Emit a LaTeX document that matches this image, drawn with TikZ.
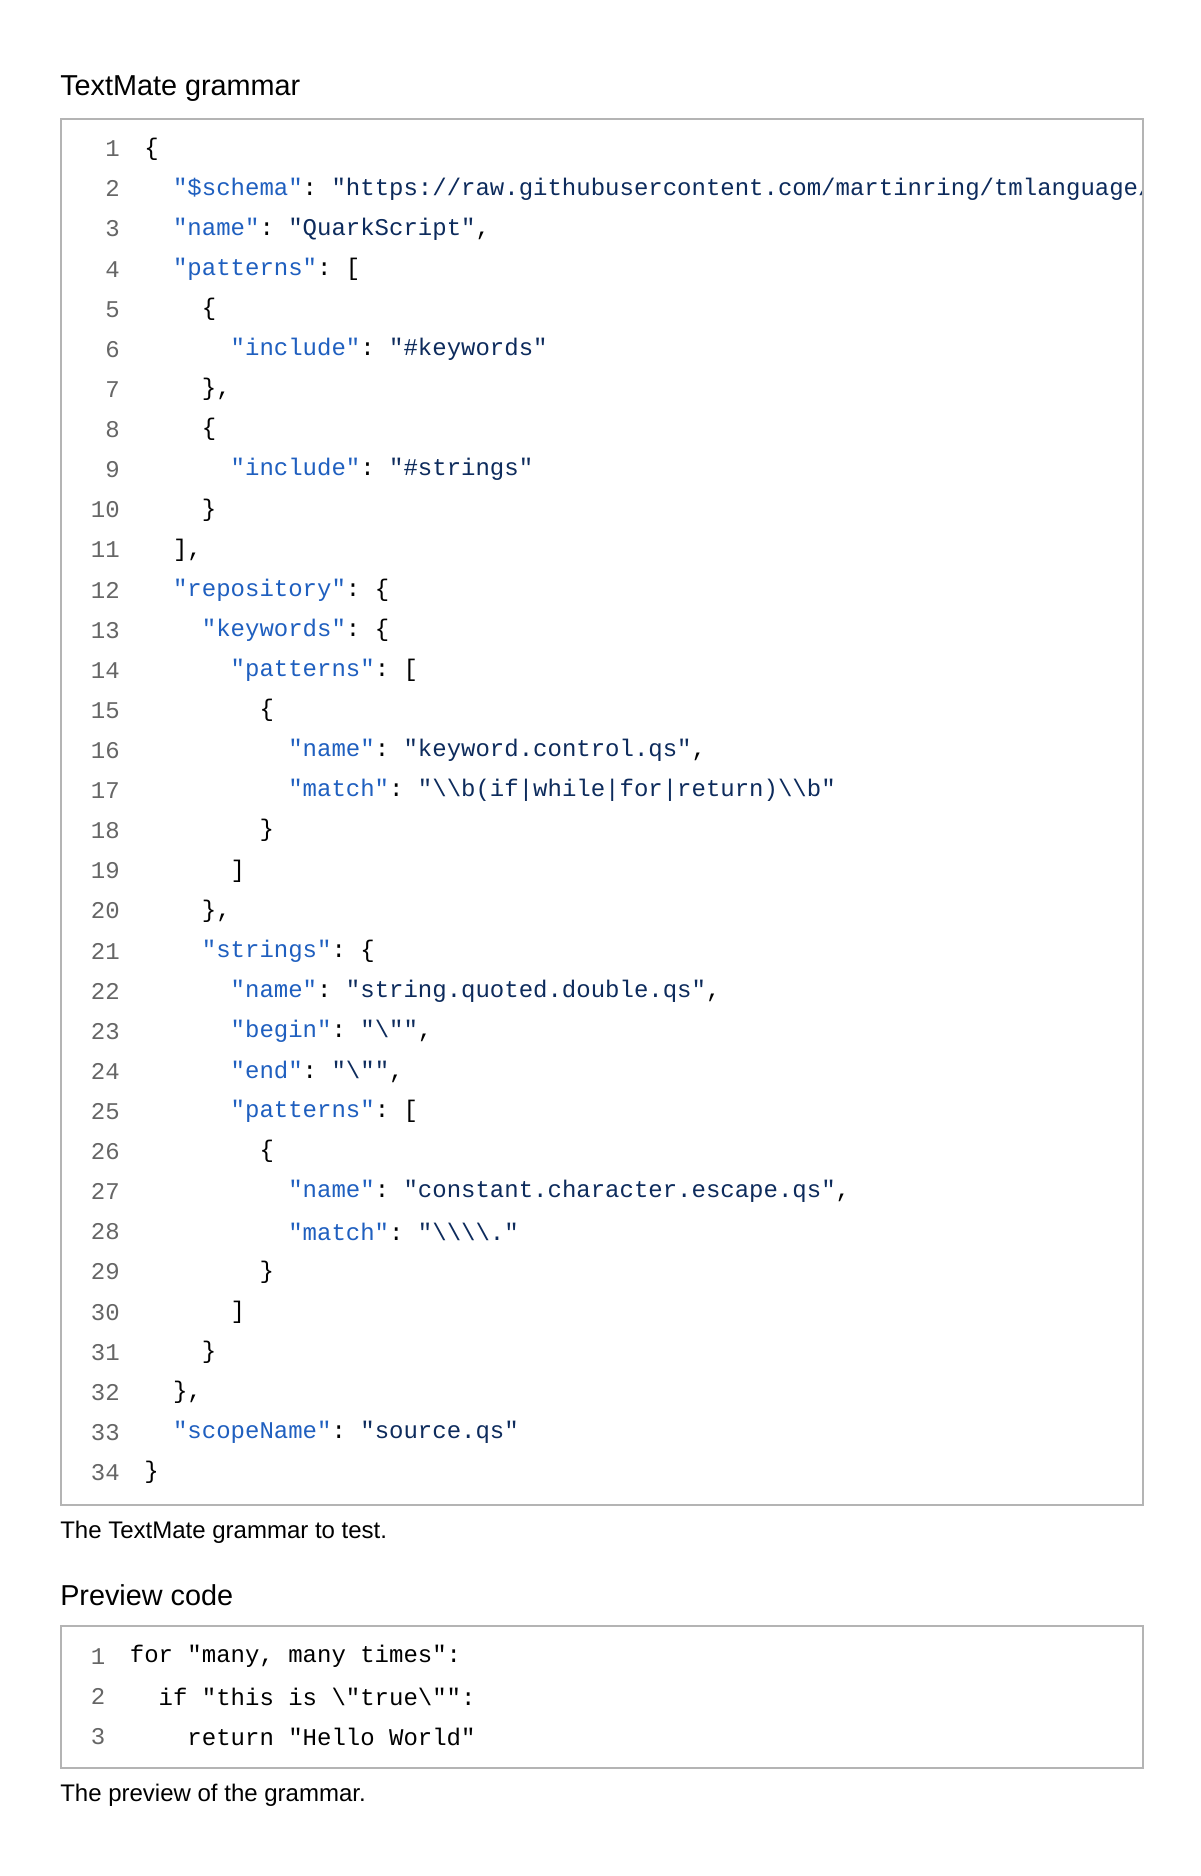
\documentclass[tikz,border=0pt]{standalone}
\usepackage{fontspec}
\setmainfont{Liberation Sans}
\setmonofont{Liberation Mono}
\definecolor{keyblue}{HTML}{1F5FBF}
\definecolor{valnavy}{HTML}{0D2B5C}
\definecolor{numgray}{HTML}{666666}
\definecolor{framegray}{HTML}{B4B4B4}
\newcommand{\K}[1]{\textcolor{keyblue}{#1}}
\newcommand{\V}[1]{\textcolor{valnavy}{#1}}
\newcommand{\bs}{\textbackslash}
\begin{document}
\begin{tikzpicture}[x=1pt, y=-1pt,
    code/.style={anchor=west, inner sep=0pt, font=\ttfamily\fontsize{20}{20}\selectfont},
    num/.style={anchor=east, inner sep=0pt, text=numgray, font=\ttfamily\fontsize{20}{20}\selectfont},
    head/.style={anchor=west, inner sep=0pt, font=\fontsize{24}{24}\selectfont},
    caption/.style={anchor=west, inner sep=0pt, font=\fontsize{20}{20}\selectfont},
    frame/.style={draw=framegray, line width=1.5pt}]
        \useasboundingbox (0, 0) rectangle (1000, 1563);
        % first listing
        \node[head] (t1) at (50, 74) {TextMate grammar};
        \draw[frame] (51, 99) rectangle (952, 1254);
        \foreach \n in {1,...,34}
            \node[num] (n\n) at (100, {124 + (\n-1)*33.42}) {\n};
        \begin{scope}
            \clip (52, 100) rectangle (951, 1253);
            \node[code] (l1) at (120, 124) {\{};
            \node[code] (l2) at (120, 157.4) {\ \ \K{"\$schema"}: \V{"https://raw.githubusercontent.com/martinring/tmlanguage/master/tmlanguage.json"},};
            \node[code] (l3) at (120, 190.8) {\ \ \K{"name"}: \V{"QuarkScript"},};
            \node[code] (l4) at (120, 224.3) {\ \ \K{"patterns"}: [};
            \node[code] (l5) at (120, 257.7) {\ \ \ \ \{};
            \node[code] (l6) at (120, 291.1) {\ \ \ \ \ \ \K{"include"}: \V{"\#keywords"}};
            \node[code] (l7) at (120, 324.5) {\ \ \ \ \},};
            \node[code] (l8) at (120, 357.9) {\ \ \ \ \{};
            \node[code] (l9) at (120, 391.4) {\ \ \ \ \ \ \K{"include"}: \V{"\#strings"}};
            \node[code] (l10) at (120, 424.8) {\ \ \ \ \}};
            \node[code] (l11) at (120, 458.2) {\ \ ],};
            \node[code] (l12) at (120, 491.6) {\ \ \K{"repository"}: \{};
            \node[code] (l13) at (120, 525.0) {\ \ \ \ \K{"keywords"}: \{};
            \node[code] (l14) at (120, 558.5) {\ \ \ \ \ \ \K{"patterns"}: [};
            \node[code] (l15) at (120, 591.9) {\ \ \ \ \ \ \ \ \{};
            \node[code] (l16) at (120, 625.3) {\ \ \ \ \ \ \ \ \ \ \K{"name"}: \V{"keyword.control.qs"},};
            \node[code] (l17) at (120, 658.7) {\ \ \ \ \ \ \ \ \ \ \K{"match"}: \V{"\bs\bs b(if|while|for|return)\bs\bs b"}};
            \node[code] (l18) at (120, 692.1) {\ \ \ \ \ \ \ \ \}};
            \node[code] (l19) at (120, 725.6) {\ \ \ \ \ \ ]};
            \node[code] (l20) at (120, 759.0) {\ \ \ \ \},};
            \node[code] (l21) at (120, 792.4) {\ \ \ \ \K{"strings"}: \{};
            \node[code] (l22) at (120, 825.8) {\ \ \ \ \ \ \K{"name"}: \V{"string.quoted.double.qs"},};
            \node[code] (l23) at (120, 859.2) {\ \ \ \ \ \ \K{"begin"}: \V{"\bs""},};
            \node[code] (l24) at (120, 892.7) {\ \ \ \ \ \ \K{"end"}: \V{"\bs""},};
            \node[code] (l25) at (120, 926.1) {\ \ \ \ \ \ \K{"patterns"}: [};
            \node[code] (l26) at (120, 959.5) {\ \ \ \ \ \ \ \ \{};
            \node[code] (l27) at (120, 992.9) {\ \ \ \ \ \ \ \ \ \ \K{"name"}: \V{"constant.character.escape.qs"},};
            \node[code] (l28) at (120, 1026.3) {\ \ \ \ \ \ \ \ \ \ \K{"match"}: \V{"\bs\bs\bs\bs."}};
            \node[code] (l29) at (120, 1059.8) {\ \ \ \ \ \ \ \ \}};
            \node[code] (l30) at (120, 1093.2) {\ \ \ \ \ \ ]};
            \node[code] (l31) at (120, 1126.6) {\ \ \ \ \}};
            \node[code] (l32) at (120, 1160.0) {\ \ \},};
            \node[code] (l33) at (120, 1193.4) {\ \ \K{"scopeName"}: \V{"source.qs"}};
            \node[code] (l34) at (120, 1226.9) {\}};
        \end{scope}
        \node[caption] (c1) at (50, 1277) {The TextMate grammar to test.};
        % second listing
        \node[head] (t2) at (50, 1329) {Preview code};
        \draw[frame] (51, 1355) rectangle (952, 1473);
        \foreach \n in {1,2,3}
            \node[num] (m\n) at (88, {1380 + (\n-1)*33.4}) {\n};
        \node[code] (p1) at (108, 1380) {for "many, many times":};
        \node[code] (p2) at (108, 1413.4) {\ \ if "this is \bs"true\bs"":};
        \node[code] (p3) at (108, 1446.8) {\ \ \ \ return "Hello World"};
        \node[caption] (c2) at (50, 1496) {The preview of the grammar.};
\end{tikzpicture}
\end{document}
